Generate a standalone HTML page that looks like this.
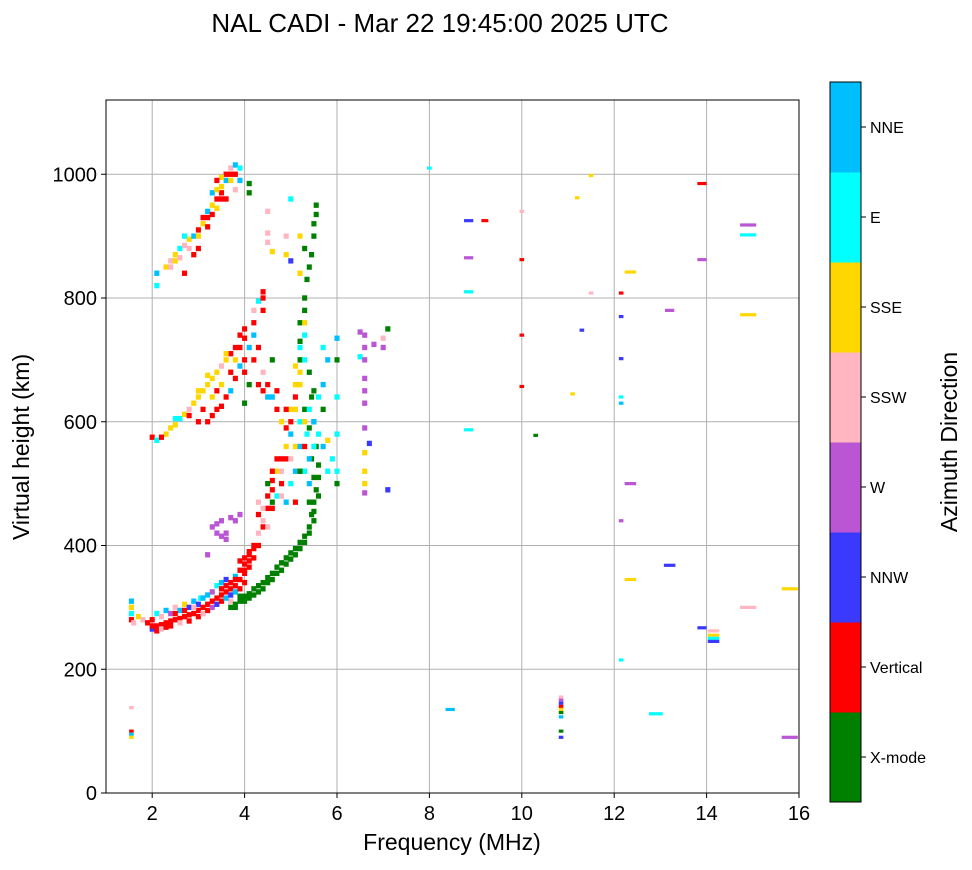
<!DOCTYPE html>
<html><head><meta charset="utf-8"><style>
body{margin:0;background:#fff;}
svg text{font-family:"Liberation Sans","DejaVu Sans",sans-serif;fill:#000;}
</style></head><body>
<svg id="chart" width="972" height="865" viewBox="0 0 972 865" xmlns="http://www.w3.org/2000/svg">
<text x="440" y="32" font-size="26" text-anchor="middle">NAL CADI - Mar 22 19:45:00 2025 UTC</text>
<g id="grid"></g>
<g id="marks"></g>
<rect x="106" y="100" width="693" height="693" fill="none" stroke="#000" stroke-width="1"/>
<g id="ticks"></g>
<text x="452" y="850" font-size="23" text-anchor="middle">Frequency (MHz)</text>
<text transform="translate(29,447) rotate(-90)" font-size="23" text-anchor="middle">Virtual height (km)</text>
<g id="colorbar"></g>
<text transform="translate(957,442) rotate(-90)" font-size="23" text-anchor="middle">Azimuth Direction</text>
</svg>
<script>
const directions=["X-mode","Vertical","NNW","W","SSW","SSE","E","NNE"];
const dirColors=["#008000","#ff0000","#3a3aff","#ba55d3","#ffb6c1","#ffd700","#00ffff","#00bfff"];
const xTicks=[2,4,6,8,10,12,14,16];
const yTicks=[0,200,400,600,800,1000];
// [frequency MHz, virtual height km, direction index, optional width MHz]
const points=[
[1.55,310,7],[1.55,300,5],[1.55,290,6],[1.55,280,1],[1.6,275,4],[1.7,285,5],[1.8,280,4],[1.9,275,1],[2.0,265,2],[2.0,270,1],[2.1,270,1],[2.1,290,6],[2.2,272,1],[2.2,285,4],[2.3,275,1],[2.3,295,7],[2.4,278,1],[2.4,290,3],[2.5,280,1],[2.5,300,4],[2.6,282,1],[2.6,295,7],[2.7,285,1],[2.7,305,5],[2.8,288,1],[2.8,300,2],[2.9,290,1],[2.9,310,7],[3.0,295,1],[3.0,305,2],[3.05,315,6],[3.1,300,1],[3.2,305,1],[3.2,320,7],[3.3,310,1],[3.3,325,3],[3.4,315,1],[3.4,335,6],[3.5,320,1],[3.5,340,7],[3.6,325,1],[3.6,345,2],[3.7,330,1],[3.7,310,4],[3.8,335,1],[3.8,350,7],[3.9,345,1],[3.9,360,1],[4.0,355,1],[4.0,370,1],[4.1,375,1],[4.1,390,1],[4.2,395,1],[4.3,400,1],[4.3,420,4],[4.4,440,4],[4.5,460,1],[4.6,490,1],[4.6,505,1],[4.7,520,5],[4.8,540,1],[4.9,560,5],[5.0,580,7],[5.0,600,1],[5.1,620,5],[5.1,640,1],[5.2,660,5],[5.2,700,5],[5.3,740,6],
[2.0,280,1],[2.1,262,1],[2.2,265,4],[2.3,268,1],[2.4,270,1],[2.5,290,1],[2.6,275,4],[2.7,295,1],[2.8,278,1],[2.9,300,4],[3.0,285,1],[3.1,315,7],[3.1,290,4],[3.2,295,1],[3.3,300,3],[3.4,305,2],[3.5,310,1],[3.5,330,1],[3.6,315,7],[3.6,335,1],[3.7,340,1],[3.7,320,2],[3.8,325,7],[3.8,345,1],[3.9,330,1],[4.0,340,1],[4.0,360,1],[4.1,365,1],[4.1,385,1],[4.2,380,1],[4.2,400,1],[4.0,380,1],[3.9,375,1],
[3.7,300,0],[3.8,305,0],[3.9,310,0],[4.0,318,0],[4.1,322,0],[4.2,330,0],[4.3,335,0],[4.4,340,0],[4.5,348,0],[4.6,355,0],[4.7,365,0],[4.8,372,0],[4.9,380,0],[5.0,388,0],[5.1,395,0],[5.2,405,0],[5.3,415,0],[5.4,430,0],[5.45,450,0],[5.5,470,0],[5.55,490,0],[5.6,510,0],[5.6,530,0],[5.55,560,0],[5.5,600,0],[5.45,640,0],[5.4,680,0],[5.2,700,0],[5.2,760,0],[5.3,800,0],[5.4,850,0],[5.5,900,0],[5.55,950,0],
[3.8,300,0],[3.9,318,0],[4.0,310,0],[4.1,315,0],[4.2,320,0],[4.3,325,0],[4.4,330,0],[4.5,340,0],[4.6,345,0],[4.7,355,0],[4.8,360,0],[4.9,370,0],[5.0,378,0],[5.1,385,0],[5.2,395,0],[5.3,405,0],[5.4,420,0],[5.5,440,0],[5.5,455,0],[5.6,480,0],[5.4,470,0],[5.5,510,0],[5.45,540,0],[5.4,590,0],[5.3,620,0],[5.5,650,0],[5.2,730,0],[5.3,780,0],[5.35,830,0],[5.45,870,0],[5.5,920,0],[5.55,935,0],
[3.3,430,3],[3.4,420,3],[3.5,415,3],[3.6,420,3],[3.7,445,3],[3.8,440,3],[3.5,440,3],[3.4,435,3],[3.6,410,3],[3.9,450,3],[3.2,385,3],
[4.4,430,1],[4.4,460,4],[4.5,480,1],[4.6,520,1],[4.7,480,6],[4.8,500,1],[4.8,520,4],[4.9,470,7],[4.9,540,1],[5.0,500,6],[5.0,540,4],[5.1,520,7],[5.1,560,5],[5.2,560,7],[5.2,600,6],[5.3,520,6],[5.3,600,5],[5.4,540,7],[5.4,620,6],[5.5,560,6],[5.5,600,7],[5.6,580,6],[5.6,640,6],[5.7,660,7],[5.7,560,7],[5.8,520,6],[4.3,450,1],[4.5,430,4],[4.6,460,1],[4.9,590,1],[5.0,620,5],[5.1,660,5],[5.1,690,5],[5.2,720,6],[5.2,680,5],[5.3,760,5],[5.3,700,6],
[2.0,575,1],[2.1,570,6],[2.3,580,5],[2.4,590,5],[2.5,595,5],[2.6,605,6],[2.7,612,5],[2.8,620,4],[2.9,630,5],[3.0,640,5],[3.1,650,5],[3.2,660,5],[3.2,600,1],[3.3,670,5],[3.3,610,1],[3.4,680,5],[3.4,620,1],[3.5,690,4],[3.5,625,1],[3.6,700,5],[3.6,640,1],[3.7,710,1],[3.7,650,7],[3.8,720,1],[3.8,670,1],[3.9,740,1],[3.9,690,7],[4.0,750,1],[4.0,700,1],[4.0,630,0],[4.1,660,0],[4.2,760,1],[4.2,740,7],[4.3,720,1],[4.4,680,4],[4.5,660,1],[4.5,640,7],[4.6,700,0],[4.7,650,1],[4.8,600,5],[4.9,620,1],
[3.6,710,5],[3.7,680,1],[3.8,700,5],[3.9,720,1],[4.0,735,1],[4.0,680,1],[4.1,720,7],[4.2,700,1],[4.3,660,1],[4.4,650,1],[4.6,640,7],[4.7,620,1],[3.5,660,5],[3.4,650,1],[3.3,640,5],[3.1,620,1],[3.0,600,1],[2.2,575,1],[2.5,605,6],[2.8,610,1],[3.0,650,5],[3.2,675,5],
[2.1,820,6],[2.1,840,7],[2.3,850,5],[2.4,860,4],[2.5,870,5],[2.6,880,6],[2.7,885,4],[2.8,895,5],[2.9,900,7],[3.0,880,1],[3.0,910,1],[3.1,920,5],[3.2,930,1],[3.2,940,7],[3.3,950,5],[3.4,960,1],[3.5,970,1],[3.5,980,5],[3.6,990,7],[3.7,1000,1],[3.7,1010,4],[3.8,1015,7],[3.9,1010,6],[4.1,985,0],[4.1,970,0],[3.8,975,4],[3.6,960,1],[3.4,945,5],[2.7,840,1],[2.9,870,1],[4.5,940,4],[4.5,890,4],[4.6,875,5],[5.0,860,2],[5.0,960,6],[4.4,810,1],[4.4,780,1],[4.2,780,4],[4.9,900,4],[5.2,840,5],
[2.4,850,4],[2.5,860,5],[2.6,865,4],[2.7,900,6],[2.8,880,4],[3.0,900,5],[3.1,930,1],[3.2,915,1],[3.3,935,1],[3.3,970,7],[3.4,975,5],[3.5,960,1],[3.6,1000,1],[3.7,990,5],[3.8,1000,1],[3.9,990,7],[3.5,995,5],[3.4,990,1],[4.3,795,6],[4.4,800,1],[4.5,905,4],[4.9,870,5],[5.2,900,5],[5.3,880,0],
[5.7,720,6],[5.8,700,7],[6.0,735,7],[6.0,700,0],[6.0,640,6],[6.0,580,6],[6.0,520,6],[6.0,500,0],[5.8,570,5],[5.9,540,6],[5.7,620,0],[5.3,560,1],[5.2,520,0],[5.1,470,1],[4.8,480,4],[4.6,470,0],[4.5,500,0],[4.3,470,4],[4.7,540,1],[5.35,580,6],[5.4,500,7],
[6.5,745,3],[6.5,705,6],[6.6,740,3],[6.6,720,3],[6.6,700,3],[6.6,670,3],[6.6,650,3],[6.6,630,3],[6.6,590,3],[6.6,550,5],[6.6,520,5],[6.6,500,5],[6.6,485,3],[6.7,565,2],[6.8,725,3],[7.0,720,3],[7.0,735,4],[7.1,750,0],[7.1,490,2],
[8.0,1010,6,0.1],[8.85,925,2,0.2],[9.2,925,1,0.15],[8.85,865,3,0.2],[8.85,810,6,0.2],[8.85,587,6,0.2],[8.45,135,7,0.2],[10.0,940,4,0.1],[10.0,862,1,0.1],[10.0,740,1,0.1],[10.0,657,1,0.1],[10.3,578,0,0.1],[11.2,962,5,0.1],[11.5,998,5,0.1],[11.5,808,4,0.1],[11.3,748,2,0.1],[11.1,645,5,0.1],[10.85,155,4,0.1],[10.85,150,3,0.1],[10.85,145,2,0.1],[10.85,140,1,0.1],[10.85,135,5,0.1],[10.85,130,0,0.1],[10.85,123,7,0.1],[10.85,100,0,0.1],[10.85,90,2,0.1],[12.15,808,1,0.1],[12.35,842,5,0.25],[12.15,770,2,0.1],[12.15,702,2,0.1],[12.15,640,6,0.1],[12.15,630,7,0.1],[12.15,440,3,0.1],[12.35,500,3,0.25],[12.35,345,5,0.25],[12.15,215,6,0.1],[12.9,128,6,0.3],[13.2,780,3,0.2],[13.2,368,2,0.25],[13.9,985,1,0.2],[13.9,862,3,0.2],[13.9,267,2,0.2],[14.15,262,4,0.25],[14.15,255,5,0.25],[14.15,250,6,0.25],[14.15,245,2,0.25],[14.9,918,3,0.35],[14.9,902,6,0.35],[14.9,773,5,0.35],[14.9,300,4,0.35],[15.8,330,5,0.35],[15.8,90,3,0.35],[1.55,138,4,0.1],[1.55,100,1,0.1],[1.55,95,7,0.1],[1.55,90,5,0.1]
];
const NS="http://www.w3.org/2000/svg";
const X0=106,X1=799,Y0=793,Y1=100,FMIN=1,FMAX=16,HMIN=0,HMAX=1120;
function xs(f){return X0+(f-FMIN)/(FMAX-FMIN)*(X1-X0);}
function ys(h){return Y0-(h-HMIN)/(HMAX-HMIN)*(Y0-Y1);}
function mk(tag,attrs,parent){const e=document.createElementNS(NS,tag);for(const k in attrs)e.setAttribute(k,attrs[k]);parent.appendChild(e);return e;}
const grid=document.getElementById('grid'),ticks=document.getElementById('ticks'),marks=document.getElementById('marks'),cb=document.getElementById('colorbar');
xTicks.forEach(t=>{const x=xs(t);
 const g=mk('line',{x1:x,x2:x,y1:Y1,y2:Y0,stroke:'#b0b0b0','stroke-width':1},grid);
 
 
 mk('line',{x1:x,x2:x,y1:Y0,y2:Y0+5,stroke:'#000'},ticks);
 const l=mk('text',{x:x,y:Y0+27,'font-size':20,'text-anchor':'middle'},ticks);l.textContent=t;
 
 
});
yTicks.forEach(t=>{const y=ys(t);
 const g=mk('line',{x1:X0,x2:X1,y1:y,y2:y,stroke:'#b0b0b0','stroke-width':1},grid);
 
 
 mk('line',{x1:X0-5,x2:X0,y1:y,y2:y,stroke:'#000'},ticks);
 const l=mk('text',{x:X0-9,y:y+7,'font-size':20,'text-anchor':'end'},ticks);l.textContent=t;
 
 
});
const kmPx=(Y0-Y1)/(HMAX-HMIN);
points.forEach(p=>{const w=(p[3]||0.11)*(X1-X0)/(FMAX-FMIN);const h=(p[3]?4.5:8)*kmPx+0.4;
 const r=mk('rect',{x:xs(p[0])-w/2,y:ys(p[1])-h/2,width:w,height:h,fill:dirColors[p[2]]},marks);
 
 
});
const CBX=830,CBW=31,CBT=82,CBB=802,seg=(CBB-CBT)/directions.length;
directions.forEach((d,i)=>{const y=CBB-(i+1)*seg;
 const r=mk('rect',{x:CBX,y:y,width:CBW,height:seg+0.5,fill:dirColors[i]},cb);
 
 
 mk('line',{x1:CBX+CBW,x2:CBX+CBW+5,y1:y+seg/2,y2:y+seg/2,stroke:'#000'},cb);
 const l=mk('text',{x:CBX+CBW+9,y:y+seg/2+6,'font-size':16},cb);l.textContent=d;
 
 
});
mk('rect',{x:CBX,y:CBT,width:CBW,height:CBB-CBT,fill:'none',stroke:'#000'},cb);
</script>
</body></html>
